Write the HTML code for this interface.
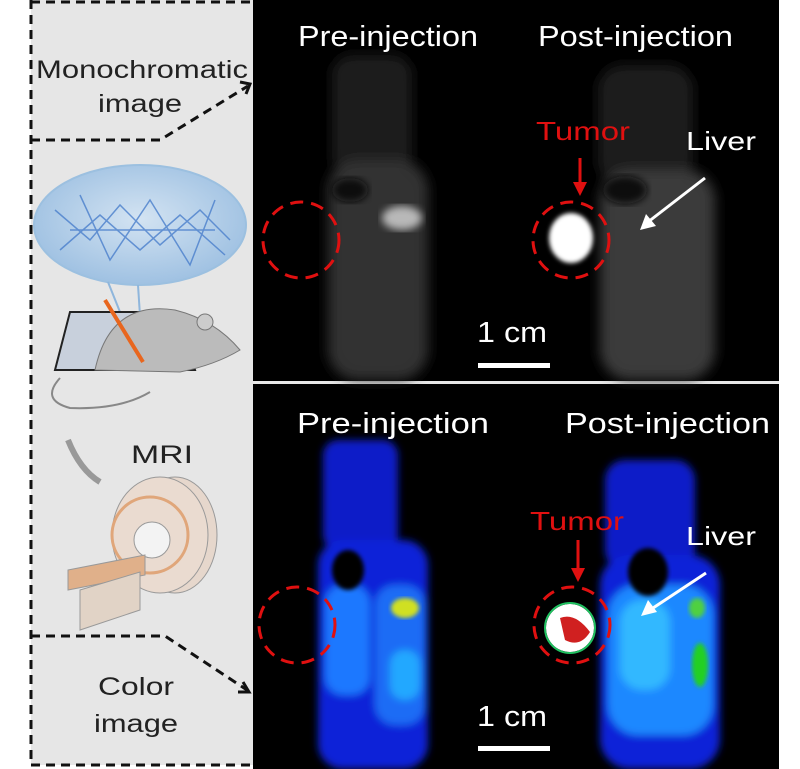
<!DOCTYPE html>
<html><head><meta charset="utf-8"><style>
html,body{margin:0;padding:0;background:#fff;}
svg{display:block;}
text{font-family:"Liberation Sans",Arial,sans-serif;}
</style></head><body>
<svg width="800" height="769" viewBox="0 0 800 769" xmlns="http://www.w3.org/2000/svg">
<defs>
<filter id="b4"><feGaussianBlur stdDeviation="4"/></filter>
<filter id="b6"><feGaussianBlur stdDeviation="6"/></filter>
<filter id="b2"><feGaussianBlur stdDeviation="2"/></filter>
<radialGradient id="bub" cx="50%" cy="45%" r="55%"><stop offset="0" stop-color="#d3e3f2"/><stop offset="1" stop-color="#9fc1e2"/></radialGradient>
</defs>
<rect width="800" height="769" fill="#fff"/>
<!-- left panel -->
<rect x="31" y="0" width="222" height="765" fill="#e6e6e6"/>
<g fill="none" stroke="#111" stroke-width="3" stroke-dasharray="9,6">
<path d="M31 0 V765 H253"/>
<path d="M31 2 H253"/>
<path d="M31 140 H160 L248 86"/>
<path d="M31 636 H165 L247 690"/>
</g>
<path d="M240 82 L250 84 L246 94" fill="none" stroke="#111" stroke-width="3"/>
<path d="M238 692 L249 692 L243 682" fill="none" stroke="#111" stroke-width="3"/>
<text x="36" y="78" font-size="25" textLength="212" lengthAdjust="spacingAndGlyphs" fill="#222">Monochromatic</text>
<text x="98" y="112" font-size="25" textLength="84" lengthAdjust="spacingAndGlyphs" fill="#222">image</text>
<text x="98" y="695" font-size="25" textLength="76" lengthAdjust="spacingAndGlyphs" fill="#222">Color</text>
<text x="94" y="732" font-size="25" textLength="84" lengthAdjust="spacingAndGlyphs" fill="#222">image</text>
<!-- bubble -->
<ellipse cx="140" cy="225" rx="106" ry="60" fill="url(#bub)" stroke="#9cc0e0" stroke-width="2"/>
<g stroke="#4a7fcc" stroke-width="1.5" fill="none" opacity="0.8">
<path d="M55 210 L90 240 L120 205 L160 245 L200 210 L230 240"/>
<path d="M60 250 L100 215 L140 250 L180 215 L225 255"/>
<path d="M80 195 L110 260 L150 200 L190 265 L215 200"/>
<path d="M70 230 H215"/>
</g>
<line x1="108" y1="282" x2="140" y2="362" stroke="#8fb6dc" stroke-width="2"/>
<line x1="138" y1="285" x2="143" y2="362" stroke="#8fb6dc" stroke-width="2"/>
<!-- mouse -->
<polygon points="70,312 175,312 195,370 55,370" fill="#c8d0dc" stroke="#222" stroke-width="2"/>
<path d="M95 370 Q110 300 175 310 Q215 320 240 350 Q215 365 180 372 Z" fill="#bbb" stroke="#777"/>
<circle cx="205" cy="322" r="8" fill="#ccc" stroke="#777"/>
<path d="M60 378 Q40 400 70 408 Q120 410 150 392" fill="none" stroke="#888" stroke-width="2"/>
<line x1="105" y1="300" x2="143" y2="362" stroke="#e8661e" stroke-width="4"/>
<!-- MRI -->
<path d="M68 440 Q80 470 100 482" fill="none" stroke="#999" stroke-width="6"/>
<text x="131" y="463" font-size="25" textLength="62" lengthAdjust="spacingAndGlyphs" fill="#222">MRI</text>
<ellipse cx="175" cy="535" rx="42" ry="58" fill="#e6d7cc" stroke="#999"/>
<ellipse cx="160" cy="535" rx="48" ry="58" fill="#eadbd0" stroke="#999"/>
<circle cx="150" cy="535" r="38" fill="none" stroke="#e0a67a" stroke-width="3"/>
<circle cx="152" cy="540" r="18" fill="#f3f3f3" stroke="#999"/>
<polygon points="68,570 145,555 145,575 68,590" fill="#e0b08a" stroke="#999"/>
<polygon points="80,590 140,572 140,610 80,630" fill="#e1d3c6" stroke="#999"/>
<!-- black panel -->
<rect x="253" y="0" width="526" height="769" fill="#000"/>
<rect x="253" y="381" width="526" height="3" fill="#e8e8e8"/>
<!-- top mouse bodies (gray) -->
<g filter="url(#b6)">
<rect x="332" y="55" width="80" height="120" rx="20" fill="#1c1c1c"/>
<rect x="328" y="160" width="100" height="220" rx="30" fill="#333"/>
<rect x="598" y="65" width="95" height="120" rx="25" fill="#1e1e1e"/>
<rect x="600" y="170" width="115" height="210" rx="30" fill="#3a3a3a"/>
</g>
<ellipse cx="350" cy="190" rx="18" ry="12" fill="#080808" filter="url(#b4)"/>
<ellipse cx="625" cy="190" rx="22" ry="14" fill="#080808" filter="url(#b4)"/>
<ellipse cx="402" cy="218" rx="20" ry="12" fill="#b8b8b8" filter="url(#b4)"/>
<ellipse cx="571" cy="238" rx="22" ry="25" fill="#fff" filter="url(#b2)"/>
<text x="298" y="46" font-size="29" textLength="180" lengthAdjust="spacingAndGlyphs" fill="#fff">Pre-injection</text>
<text x="538" y="46" font-size="29" textLength="195" lengthAdjust="spacingAndGlyphs" fill="#fff">Post-injection</text>
<text x="536" y="140" font-size="26" textLength="94" lengthAdjust="spacingAndGlyphs" fill="#e01010">Tumor</text>
<line x1="580" y1="158" x2="580" y2="184" stroke="#e01010" stroke-width="3"/>
<polygon points="573,182 587,182 580,196" fill="#e01010"/>
<text x="686" y="150" font-size="26" textLength="70" lengthAdjust="spacingAndGlyphs" fill="#fff">Liver</text>
<line x1="705" y1="178" x2="648" y2="222" stroke="#fff" stroke-width="3"/>
<polygon points="640,230 646,214 656,226" fill="#fff"/>
<circle cx="301" cy="240" r="38" fill="none" stroke="#e01010" stroke-width="3" stroke-dasharray="13,8"/>
<circle cx="571" cy="240" r="38" fill="none" stroke="#e01010" stroke-width="3" stroke-dasharray="13,8"/>
<text x="477" y="342" font-size="29" textLength="70" lengthAdjust="spacingAndGlyphs" fill="#fff">1 cm</text>
<rect x="478" y="363" width="72" height="5" fill="#fff"/>
<!-- bottom mouse bodies (blue) -->
<g filter="url(#b4)">
<rect x="323" y="440" width="75" height="110" rx="15" fill="#0a1ec8"/>
<rect x="318" y="540" width="110" height="229" rx="25" fill="#0a22d8"/>
<rect x="325" y="585" width="45" height="110" rx="18" fill="#1a78ff"/>
<rect x="375" y="585" width="50" height="140" rx="20" fill="#1a6cf5"/>
<rect x="390" y="650" width="30" height="50" rx="14" fill="#20a8ff"/>
<rect x="605" y="460" width="90" height="110" rx="20" fill="#0a1ec8"/>
<rect x="600" y="555" width="120" height="214" rx="30" fill="#0a22d8"/>
<rect x="608" y="585" width="105" height="150" rx="30" fill="#1a88ff"/>
<rect x="620" y="600" width="50" height="90" rx="22" fill="#30b8ff"/>
</g>
<ellipse cx="348" cy="570" rx="16" ry="20" fill="#000" filter="url(#b2)"/>
<ellipse cx="648" cy="572" rx="20" ry="24" fill="#000" filter="url(#b2)"/>
<ellipse cx="405" cy="608" rx="14" ry="10" fill="#d0e020" filter="url(#b2)"/>
<ellipse cx="700" cy="665" rx="8" ry="22" fill="#20d020" filter="url(#b2)"/>
<ellipse cx="697" cy="608" rx="8" ry="10" fill="#50d040" filter="url(#b2)"/>
<circle cx="570" cy="628" r="24" fill="#fff"/>
<path d="M560 618 Q575 612 590 632 Q580 648 565 640 Z" fill="#d02020"/>
<circle cx="570" cy="628" r="25" fill="none" stroke="#20c060" stroke-width="2"/>
<text x="297" y="433" font-size="29" textLength="192" lengthAdjust="spacingAndGlyphs" fill="#fff">Pre-injection</text>
<text x="565" y="433" font-size="29" textLength="205" lengthAdjust="spacingAndGlyphs" fill="#fff">Post-injection</text>
<text x="530" y="530" font-size="26" textLength="94" lengthAdjust="spacingAndGlyphs" fill="#e01010">Tumor</text>
<line x1="578" y1="540" x2="578" y2="570" stroke="#e01010" stroke-width="3"/>
<polygon points="571,568 585,568 578,582" fill="#e01010"/>
<text x="686" y="545" font-size="26" textLength="70" lengthAdjust="spacingAndGlyphs" fill="#fff">Liver</text>
<line x1="706" y1="573" x2="650" y2="610" stroke="#fff" stroke-width="3"/>
<polygon points="641,616 648,600 657,612" fill="#fff"/>
<circle cx="297" cy="625" r="38" fill="none" stroke="#e01010" stroke-width="3" stroke-dasharray="13,8"/>
<circle cx="572" cy="625" r="38" fill="none" stroke="#e01010" stroke-width="3" stroke-dasharray="13,8"/>
<text x="477" y="726" font-size="29" textLength="70" lengthAdjust="spacingAndGlyphs" fill="#fff">1 cm</text>
<rect x="478" y="746" width="72" height="5" fill="#fff"/>
</svg>
</body></html>
